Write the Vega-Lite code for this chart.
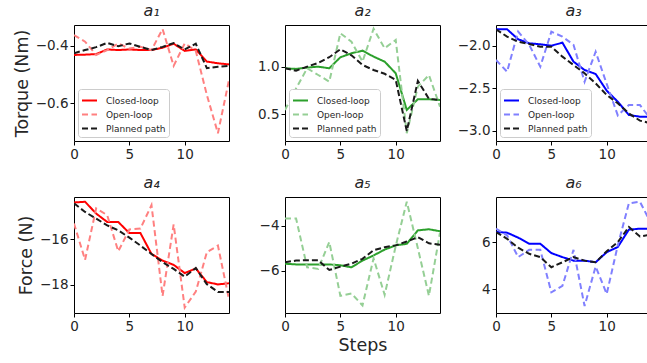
{
  "$schema": "https://vega.github.io/schema/vega-lite/v6.json",
  "autosize": {"type": "none"},
  "padding": {"left": 74, "top": 25, "right": 573, "bottom": 338},
  "background": "white",
  "columns": 3,
  "spacing": 56,
  "bounds": "flush",
  "data": {"values": [
    {"p":1,"x":0,"Closed-loop":-0.432,"Open-loop":-0.363,"Planned path":-0.426},
    {"p":1,"x":1,"Closed-loop":-0.431,"Open-loop":-0.386,"Planned path":-0.415},
    {"p":1,"x":2,"Closed-loop":-0.429,"Open-loop":-0.432,"Planned path":-0.405},
    {"p":1,"x":3,"Closed-loop":-0.413,"Open-loop":-0.415,"Planned path":-0.39},
    {"p":1,"x":4,"Closed-loop":-0.415,"Open-loop":-0.392,"Planned path":-0.402},
    {"p":1,"x":5,"Closed-loop":-0.413,"Open-loop":-0.41,"Planned path":-0.392},
    {"p":1,"x":6,"Closed-loop":-0.415,"Open-loop":-0.404,"Planned path":-0.404},
    {"p":1,"x":7,"Closed-loop":-0.415,"Open-loop":-0.415,"Planned path":-0.415},
    {"p":1,"x":8,"Closed-loop":-0.407,"Open-loop":-0.342,"Planned path":-0.404},
    {"p":1,"x":9,"Closed-loop":-0.393,"Open-loop":-0.47,"Planned path":-0.391},
    {"p":1,"x":10,"Closed-loop":-0.418,"Open-loop":-0.392,"Planned path":-0.413},
    {"p":1,"x":11,"Closed-loop":-0.413,"Open-loop":-0.418,"Planned path":-0.393},
    {"p":1,"x":12,"Closed-loop":-0.455,"Open-loop":-0.571,"Planned path":-0.478},
    {"p":1,"x":13,"Closed-loop":-0.461,"Open-loop":-0.704,"Planned path":-0.473},
    {"p":1,"x":14,"Closed-loop":-0.465,"Open-loop":-0.519,"Planned path":-0.47},
    {"p":2,"x":0,"Closed-loop":0.983,"Open-loop":0.542,"Planned path":0.983},
    {"p":2,"x":1,"Closed-loop":0.976,"Open-loop":0.77,"Planned path":0.958},
    {"p":2,"x":2,"Closed-loop":0.99,"Open-loop":0.983,"Planned path":1.0},
    {"p":2,"x":3,"Closed-loop":1.0,"Open-loop":0.912,"Planned path":1.04},
    {"p":2,"x":4,"Closed-loop":0.983,"Open-loop":0.842,"Planned path":1.1},
    {"p":2,"x":5,"Closed-loop":1.099,"Open-loop":1.353,"Planned path":1.183},
    {"p":2,"x":6,"Closed-loop":1.141,"Open-loop":1.264,"Planned path":1.12},
    {"p":2,"x":7,"Closed-loop":1.169,"Open-loop":1.053,"Planned path":1.018},
    {"p":2,"x":8,"Closed-loop":1.106,"Open-loop":1.4,"Planned path":0.965},
    {"p":2,"x":9,"Closed-loop":1.053,"Open-loop":1.194,"Planned path":0.925},
    {"p":2,"x":10,"Closed-loop":0.93,"Open-loop":1.282,"Planned path":0.86},
    {"p":2,"x":11,"Closed-loop":0.543,"Open-loop":0.297,"Planned path":0.32},
    {"p":2,"x":12,"Closed-loop":0.656,"Open-loop":0.789,"Planned path":0.85},
    {"p":2,"x":13,"Closed-loop":0.656,"Open-loop":0.912,"Planned path":0.66},
    {"p":2,"x":14,"Closed-loop":0.648,"Open-loop":0.578,"Planned path":0.648},
    {"p":3,"x":0,"Closed-loop":-1.807,"Open-loop":-2.168,"Planned path":-1.807},
    {"p":3,"x":1,"Closed-loop":-1.807,"Open-loop":-2.306,"Planned path":-1.894},
    {"p":3,"x":2,"Closed-loop":-1.925,"Open-loop":-1.835,"Planned path":-1.953},
    {"p":3,"x":3,"Closed-loop":-1.972,"Open-loop":-1.99,"Planned path":-1.98},
    {"p":3,"x":4,"Closed-loop":-1.984,"Open-loop":-2.247,"Planned path":-2.012},
    {"p":3,"x":5,"Closed-loop":-2.0,"Open-loop":-1.835,"Planned path":-2.012},
    {"p":3,"x":6,"Closed-loop":-1.965,"Open-loop":-1.894,"Planned path":-2.129},
    {"p":3,"x":7,"Closed-loop":-2.188,"Open-loop":-1.99,"Planned path":-2.227},
    {"p":3,"x":8,"Closed-loop":-2.286,"Open-loop":-2.424,"Planned path":-2.325},
    {"p":3,"x":9,"Closed-loop":-2.333,"Open-loop":-2.071,"Planned path":-2.443},
    {"p":3,"x":10,"Closed-loop":-2.529,"Open-loop":-2.45,"Planned path":-2.58},
    {"p":3,"x":11,"Closed-loop":-2.659,"Open-loop":-2.82,"Planned path":-2.678},
    {"p":3,"x":12,"Closed-loop":-2.815,"Open-loop":-2.698,"Planned path":-2.796},
    {"p":3,"x":13,"Closed-loop":-2.835,"Open-loop":-2.698,"Planned path":-2.882},
    {"p":3,"x":14,"Closed-loop":-2.835,"Open-loop":-2.87,"Planned path":-2.913},
    {"p":4,"x":0,"Closed-loop":-14.37,"Open-loop":-15.3,"Planned path":-14.41},
    {"p":4,"x":1,"Closed-loop":-14.34,"Open-loop":-16.9,"Planned path":-14.79},
    {"p":4,"x":2,"Closed-loop":-14.86,"Open-loop":-14.63,"Planned path":-15.08},
    {"p":4,"x":3,"Closed-loop":-15.23,"Open-loop":-14.93,"Planned path":-15.38},
    {"p":4,"x":4,"Closed-loop":-15.23,"Open-loop":-16.52,"Planned path":-15.6},
    {"p":4,"x":5,"Closed-loop":-15.72,"Open-loop":-15.56,"Planned path":-15.92},
    {"p":4,"x":6,"Closed-loop":-15.72,"Open-loop":-15.52,"Planned path":-16.27},
    {"p":4,"x":7,"Closed-loop":-16.64,"Open-loop":-14.49,"Planned path":-16.64},
    {"p":4,"x":8,"Closed-loop":-16.93,"Open-loop":-18.49,"Planned path":-17.0},
    {"p":4,"x":9,"Closed-loop":-17.12,"Open-loop":-15.34,"Planned path":-17.3},
    {"p":4,"x":10,"Closed-loop":-17.48,"Open-loop":-19.0,"Planned path":-17.64},
    {"p":4,"x":11,"Closed-loop":-17.28,"Open-loop":-18.3,"Planned path":-17.26},
    {"p":4,"x":12,"Closed-loop":-17.88,"Open-loop":-16.56,"Planned path":-17.97},
    {"p":4,"x":13,"Closed-loop":-17.98,"Open-loop":-16.27,"Planned path":-18.31},
    {"p":4,"x":14,"Closed-loop":-17.93,"Open-loop":-18.64,"Planned path":-18.31},
    {"p":5,"x":0,"Closed-loop":-5.69,"Open-loop":-3.67,"Planned path":-5.62},
    {"p":5,"x":1,"Closed-loop":-5.72,"Open-loop":-3.67,"Planned path":-5.55},
    {"p":5,"x":2,"Closed-loop":-5.72,"Open-loop":-5.85,"Planned path":-5.53},
    {"p":5,"x":3,"Closed-loop":-5.72,"Open-loop":-5.92,"Planned path":-5.53},
    {"p":5,"x":4,"Closed-loop":-5.72,"Open-loop":-4.72,"Planned path":-5.97},
    {"p":5,"x":5,"Closed-loop":-5.76,"Open-loop":-7.12,"Planned path":-5.82},
    {"p":5,"x":6,"Closed-loop":-5.85,"Open-loop":-7.02,"Planned path":-5.69},
    {"p":5,"x":7,"Closed-loop":-5.55,"Open-loop":-7.55,"Planned path":-5.47},
    {"p":5,"x":8,"Closed-loop":-5.32,"Open-loop":-5.45,"Planned path":-5.09},
    {"p":5,"x":9,"Closed-loop":-5.06,"Open-loop":-7.08,"Planned path":-4.95},
    {"p":5,"x":10,"Closed-loop":-4.87,"Open-loop":-4.9,"Planned path":-4.87},
    {"p":5,"x":11,"Closed-loop":-4.8,"Open-loop":-2.92,"Planned path":-4.7},
    {"p":5,"x":12,"Closed-loop":-4.2,"Open-loop":-5.0,"Planned path":-4.5},
    {"p":5,"x":13,"Closed-loop":-4.15,"Open-loop":-7.12,"Planned path":-4.78},
    {"p":5,"x":14,"Closed-loop":-4.24,"Open-loop":-4.3,"Planned path":-4.84},
    {"p":6,"x":0,"Closed-loop":6.43,"Open-loop":6.57,"Planned path":6.43},
    {"p":6,"x":1,"Closed-loop":6.4,"Open-loop":6.29,"Planned path":6.14},
    {"p":6,"x":2,"Closed-loop":6.19,"Open-loop":5.36,"Planned path":5.76},
    {"p":6,"x":3,"Closed-loop":5.93,"Open-loop":5.67,"Planned path":5.5},
    {"p":6,"x":4,"Closed-loop":5.93,"Open-loop":5.67,"Planned path":5.36},
    {"p":6,"x":5,"Closed-loop":5.53,"Open-loop":3.86,"Planned path":4.93},
    {"p":6,"x":6,"Closed-loop":5.36,"Open-loop":4.14,"Planned path":5.14},
    {"p":6,"x":7,"Closed-loop":5.21,"Open-loop":5.67,"Planned path":5.36},
    {"p":6,"x":8,"Closed-loop":5.21,"Open-loop":3.28,"Planned path":5.21},
    {"p":6,"x":9,"Closed-loop":5.14,"Open-loop":4.96,"Planned path":5.14},
    {"p":6,"x":10,"Closed-loop":5.57,"Open-loop":3.79,"Planned path":5.61},
    {"p":6,"x":11,"Closed-loop":5.79,"Open-loop":5.86,"Planned path":6.0},
    {"p":6,"x":12,"Closed-loop":6.53,"Open-loop":7.65,"Planned path":6.64},
    {"p":6,"x":13,"Closed-loop":6.57,"Open-loop":7.72,"Planned path":6.24},
    {"p":6,"x":14,"Closed-loop":6.57,"Open-loop":6.8,"Planned path":6.32}
  ]},
  "resolve": {
    "scale": {"x": "independent", "y": "independent", "color": "independent", "strokeDash": "independent"},
    "axis": {"x": "independent", "y": "independent"},
    "legend": {"color": "independent", "strokeDash": "independent"}
  },
  "concat": [
    {
      "width": 155, "height": 116,
      "title": "a₁",
      "transform": [{"filter": "datum.p == 1"}, {"fold": ["Closed-loop", "Open-loop", "Planned path"], "as": ["series", "value"]}],
      "mark": {"type": "line", "strokeWidth": 2, "clip": true},
      "encoding": {
        "x": {"field": "x", "type": "quantitative", "scale": {"domain": [0, 14], "nice": false}, "axis": {"values": [0, 5, 10], "title": null}},
        "y": {"field": "value", "type": "quantitative", "scale": {"domain": [-0.731, -0.328], "nice": false, "zero": false}, "axis": {"values": [-0.6, -0.4], "format": ".1f", "title": "Torque (Nm)"}},
        "color": {"field": "series", "type": "nominal", "scale": {"domain": ["Closed-loop", "Open-loop", "Planned path"], "range": ["#ff0000", "#ff8080", "#1a1a1a"]}, "legend": {"orient": "bottom-left", "title": null}},
        "strokeDash": {"field": "series", "type": "nominal", "scale": {"domain": ["Closed-loop", "Open-loop", "Planned path"], "range": [[1, 0], [6, 3.5], [6, 3]]}, "legend": {"orient": "bottom-left", "title": null}}
      }
    },
    {
      "width": 155, "height": 116,
      "title": "a₂",
      "transform": [{"filter": "datum.p == 2"}, {"fold": ["Closed-loop", "Open-loop", "Planned path"], "as": ["series", "value"]}],
      "mark": {"type": "line", "strokeWidth": 2, "clip": true},
      "encoding": {
        "x": {"field": "x", "type": "quantitative", "scale": {"domain": [0, 14], "nice": false}, "axis": {"values": [0, 5, 10], "title": null}},
        "y": {"field": "value", "type": "quantitative", "scale": {"domain": [0.215, 1.44], "nice": false, "zero": false}, "axis": {"values": [0.5, 1.0], "format": ".1f", "title": null}},
        "color": {"field": "series", "type": "nominal", "scale": {"domain": ["Closed-loop", "Open-loop", "Planned path"], "range": ["#2ca02c", "#95cf95", "#1a1a1a"]}, "legend": {"orient": "bottom-left", "title": null}},
        "strokeDash": {"field": "series", "type": "nominal", "scale": {"domain": ["Closed-loop", "Open-loop", "Planned path"], "range": [[1, 0], [6, 3.5], [6, 3]]}, "legend": {"orient": "bottom-left", "title": null}}
      }
    },
    {
      "width": 155, "height": 116,
      "title": "a₃",
      "transform": [{"filter": "datum.p == 3"}, {"fold": ["Closed-loop", "Open-loop", "Planned path"], "as": ["series", "value"]}],
      "mark": {"type": "line", "strokeWidth": 2, "clip": true},
      "encoding": {
        "x": {"field": "x", "type": "quantitative", "scale": {"domain": [0, 14], "nice": false}, "axis": {"values": [0, 5, 10], "title": null}},
        "y": {"field": "value", "type": "quantitative", "scale": {"domain": [-3.121, -1.757], "nice": false, "zero": false}, "axis": {"values": [-3.0, -2.5, -2.0], "format": ".1f", "title": null}},
        "color": {"field": "series", "type": "nominal", "scale": {"domain": ["Closed-loop", "Open-loop", "Planned path"], "range": ["#0000ff", "#8080ff", "#1a1a1a"]}, "legend": {"orient": "bottom-left", "title": null}},
        "strokeDash": {"field": "series", "type": "nominal", "scale": {"domain": ["Closed-loop", "Open-loop", "Planned path"], "range": [[1, 0], [6, 3.5], [6, 3]]}, "legend": {"orient": "bottom-left", "title": null}}
      }
    },
    {
      "width": 155, "height": 116,
      "title": "a₄",
      "transform": [{"filter": "datum.p == 4"}, {"fold": ["Closed-loop", "Open-loop", "Planned path"], "as": ["series", "value"]}],
      "mark": {"type": "line", "strokeWidth": 2, "clip": true},
      "encoding": {
        "x": {"field": "x", "type": "quantitative", "scale": {"domain": [0, 14], "nice": false}, "axis": {"values": [0, 5, 10], "title": null}},
        "y": {"field": "value", "type": "quantitative", "scale": {"domain": [-19.24, -14.13], "nice": false, "zero": false}, "axis": {"values": [-18, -16], "format": "d", "title": "Force (N)"}},
        "color": {"field": "series", "type": "nominal", "scale": {"domain": ["Closed-loop", "Open-loop", "Planned path"], "range": ["#ff0000", "#ff8080", "#1a1a1a"]}, "legend": null},
        "strokeDash": {"field": "series", "type": "nominal", "scale": {"domain": ["Closed-loop", "Open-loop", "Planned path"], "range": [[1, 0], [6, 3.5], [6, 3]]}, "legend": null}
      }
    },
    {
      "width": 155, "height": 116,
      "title": "a₅",
      "transform": [{"filter": "datum.p == 5"}, {"fold": ["Closed-loop", "Open-loop", "Planned path"], "as": ["series", "value"]}],
      "mark": {"type": "line", "strokeWidth": 2, "clip": true},
      "encoding": {
        "x": {"field": "x", "type": "quantitative", "scale": {"domain": [0, 14], "nice": false}, "axis": {"values": [0, 5, 10], "title": "Steps"}},
        "y": {"field": "value", "type": "quantitative", "scale": {"domain": [-7.89, -2.71], "nice": false, "zero": false}, "axis": {"values": [-6, -4], "format": "d", "title": null}},
        "color": {"field": "series", "type": "nominal", "scale": {"domain": ["Closed-loop", "Open-loop", "Planned path"], "range": ["#2ca02c", "#95cf95", "#1a1a1a"]}, "legend": null},
        "strokeDash": {"field": "series", "type": "nominal", "scale": {"domain": ["Closed-loop", "Open-loop", "Planned path"], "range": [[1, 0], [6, 3.5], [6, 3]]}, "legend": null}
      }
    },
    {
      "width": 155, "height": 116,
      "title": "a₆",
      "transform": [{"filter": "datum.p == 6"}, {"fold": ["Closed-loop", "Open-loop", "Planned path"], "as": ["series", "value"]}],
      "mark": {"type": "line", "strokeWidth": 2, "clip": true},
      "encoding": {
        "x": {"field": "x", "type": "quantitative", "scale": {"domain": [0, 14], "nice": false}, "axis": {"values": [0, 5, 10], "title": null}},
        "y": {"field": "value", "type": "quantitative", "scale": {"domain": [2.98, 7.92], "nice": false, "zero": false}, "axis": {"values": [4, 6], "format": "d", "title": null}},
        "color": {"field": "series", "type": "nominal", "scale": {"domain": ["Closed-loop", "Open-loop", "Planned path"], "range": ["#0000ff", "#8080ff", "#1a1a1a"]}, "legend": null},
        "strokeDash": {"field": "series", "type": "nominal", "scale": {"domain": ["Closed-loop", "Open-loop", "Planned path"], "range": [[1, 0], [6, 3.5], [6, 3]]}, "legend": null}
      }
    }
  ],
  "config": {
    "font": "DejaVu Sans",
    "view": {"stroke": "#000000", "strokeWidth": 1},
    "axis": {
      "domain": false, "grid": false, "ticks": true, "tickColor": "#000000", "tickSize": 4, "tickWidth": 1,
      "labelFont": "DejaVu Sans", "labelFontSize": 13.5, "labelColor": "#262626", "labelPadding": 2,
      "labelFlush": false, "labelOverlap": false,
      "titleFont": "DejaVu Sans", "titleFontSize": 17.5, "titleFontWeight": "normal", "titleColor": "#262626", "titlePadding": 4
    },
    "title": {"font": "DejaVu Sans", "fontSize": 16, "fontWeight": "normal", "fontStyle": "italic", "color": "#262626", "offset": 6},
    "legend": {
      "offset": 4, "symbolType": "stroke", "symbolSize": 225, "symbolStrokeWidth": 2,
      "labelFont": "DejaVu Sans", "labelFontSize": 9, "labelColor": "#262626", "labelOffset": 8,
      "strokeColor": "#cccccc", "fillColor": "#ffffff", "padding": 3, "cornerRadius": 3, "rowPadding": 0
    }
  }
}
